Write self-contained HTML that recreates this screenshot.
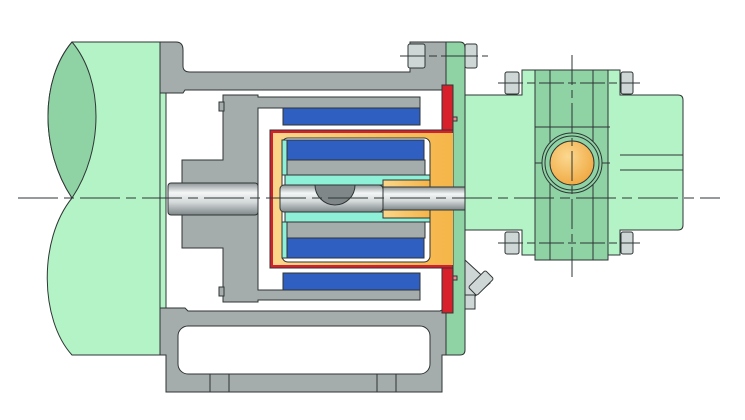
<!DOCTYPE html>
<html><head><meta charset="utf-8"><style>html,body{margin:0;padding:0;background:#fff}svg{display:block}</style></head><body>
<svg width="745" height="420" viewBox="0 0 745 420" xmlns="http://www.w3.org/2000/svg">
<defs>
<linearGradient id="sh" x1="0" y1="0" x2="0" y2="1">
<stop offset="0" stop-color="#8d9596"/><stop offset="0.3" stop-color="#f4f6f6"/><stop offset="0.6" stop-color="#d4d9da"/><stop offset="1" stop-color="#7f8788"/></linearGradient>
<linearGradient id="or" x1="0" y1="0" x2="1" y2="0">
<stop offset="0" stop-color="#fbd68a"/><stop offset="1" stop-color="#f5b548"/></linearGradient>
<radialGradient id="ball" cx="0.4" cy="0.35" r="0.7">
<stop offset="0" stop-color="#fbd890"/><stop offset="1" stop-color="#f0a840"/></radialGradient>
</defs>
<g stroke="#2f3535" stroke-width="1">
<!-- motor -->
<path d="M72,42 L160,42 L160,355 L72,355 C40,320 38,240 72,198 C40,150 40,80 72,42 Z" fill="#b3f3c6"/>
<path d="M72,42 C104,80 104,150 72,198 C40,150 40,80 72,42 Z" fill="#8fd3a5"/>
<rect x="160" y="90" width="6" height="220" fill="#b3f3c6"/>
<!-- top housing -->
<path d="M160,42 L176,42 Q183,42 183,50 L183,66 Q183,72 190,72 L410,72 L410,42 L446,42 L446,90 L185,90 L183,93 L160,93 Z" fill="#a4acac"/>
<!-- bottom housing -->
<path d="M160,308 L185,308 L188,311 L440,311 L446,308 L446,355 L442,355 L442,392 L166,392 L166,355 L160,355 Z" fill="#a4acac"/>
<rect x="178" y="326" width="252" height="48" rx="10" fill="#fff"/>
<line x1="210" y1="374" x2="210" y2="392"/><line x1="229" y1="374" x2="229" y2="392"/>
<line x1="377" y1="374" x2="377" y2="392"/><line x1="396" y1="374" x2="396" y2="392"/>
<!-- green flange plate -->
<path d="M446,42 L460,42 Q465,42 465,48 L465,350 Q465,355 460,355 L446,355 Z" fill="#8fd3a5"/>
<!-- outer magnet carrier -->
<path d="M223,95 L258,95 L258,97 L420,97 L420,108 L258,108 L258,290 L420,290 L420,300 L258,300 L258,302 L223,302 L223,248 L182,248 L182,160 L223,160 Z" fill="#a4acac"/>
<rect x="219" y="102" width="5" height="9" fill="#a4acac"/><rect x="219" y="287" width="5" height="9" fill="#a4acac"/>
<rect x="283" y="108" width="137" height="17" fill="#2f5fc0"/>
<rect x="283" y="273" width="137" height="17" fill="#2f5fc0"/>
<!-- red can flange -->
<rect x="442" y="85" width="11" height="228" fill="#d8202c"/>
<rect x="453" y="117" width="4" height="4" fill="#e8909a"/><rect x="453" y="276" width="4" height="4" fill="#e8909a"/>
<!-- can -->
<rect x="270" y="130" width="183" height="138" fill="#d8202c"/>
<rect x="273" y="133" width="180" height="132" fill="url(#or)" stroke="none"/>
<rect x="282" y="138" width="148" height="124" rx="6" fill="#fff"/>
<rect x="287" y="140" width="137" height="20" fill="#2f5fc0"/>
<rect x="287" y="160" width="138" height="15" fill="#a4acac"/>
<rect x="282" y="140" width="5" height="35" fill="#8ff0d8"/>
<rect x="285" y="175" width="145" height="10" fill="#8ff0d8"/>
<rect x="285" y="212" width="145" height="10" fill="#8ff0d8"/>
<rect x="287" y="222" width="138" height="16" fill="#a4acac"/>
<rect x="287" y="238" width="137" height="20" fill="#2f5fc0"/>
<rect x="282" y="222" width="5" height="36" fill="#8ff0d8"/>
<rect x="383" y="180" width="47" height="38" fill="url(#or)"/>
<rect x="280" y="185" width="103" height="27" rx="4" fill="url(#sh)"/>
<path d="M315,185 A20,20 0 0 0 355,185 Z" fill="#7f8788"/>
<rect x="383" y="187" width="82" height="23" fill="url(#sh)"/>
<rect x="168" y="183" width="90" height="32" rx="3" fill="url(#sh)"/>
<!-- top bolts -->
<rect x="408" y="44" width="17" height="24" rx="2" fill="#cfd6d6"/><line x1="408" y1="56" x2="425" y2="56"/>
<rect x="465" y="44" width="12" height="24" rx="2" fill="#cfd6d6"/><line x1="465" y1="56" x2="477" y2="56"/>
<!-- angled bolt -->
<path d="M465,260 L490,283 L473,298 L465,300 Z" fill="#cfd6d6"/>
<rect x="475" y="271" width="12" height="24" rx="2" fill="#cfd6d6" transform="rotate(45 481 283)"/>
<rect x="465" y="295" width="10" height="14" fill="#cfd6d6"/>
<!-- pump casing -->
<path d="M465,95 L522,95 L522,70 L620,70 L620,95 L678,95 Q683,95 683,100 L683,225 Q683,230 678,230 L620,230 L620,255 L522,255 L522,230 L465,230 Z" fill="#b3f3c6"/>
<rect x="535" y="70" width="73" height="190" fill="#8fd3a5"/>
<path d="M550,70 L550,260 M593,70 L593,260 M535,127 L610,127 M535,163 L610,163" fill="none"/>
<path d="M620,155 L683,155 M620,170 L683,170" fill="none"/>
<circle cx="572" cy="163" r="30" fill="#8fd3a5"/>
<circle cx="572" cy="163" r="27" fill="none"/>
<circle cx="572" cy="163" r="22" fill="url(#ball)"/>
<!-- pump bolts -->
<g fill="#cfd6d6">
<rect x="505" y="72" width="14" height="22" rx="2"/><rect x="621" y="72" width="12" height="22" rx="2"/>
<rect x="505" y="232" width="14" height="22" rx="2"/><rect x="621" y="232" width="12" height="22" rx="2"/>
</g>
</g>
<!-- center lines -->
<g stroke="#2f3535" stroke-width="1" fill="none">
<path d="M18,198 L720,198" stroke-dasharray="40,6,10,6"/>
<path d="M572,55 L572,282" stroke-dasharray="30,5,8,5"/>
<path d="M498,83 L640,83 M498,243 L640,243 M400,56 L488,56" stroke-dasharray="25,4,8,4"/>
</g>
</svg>
</body></html>
